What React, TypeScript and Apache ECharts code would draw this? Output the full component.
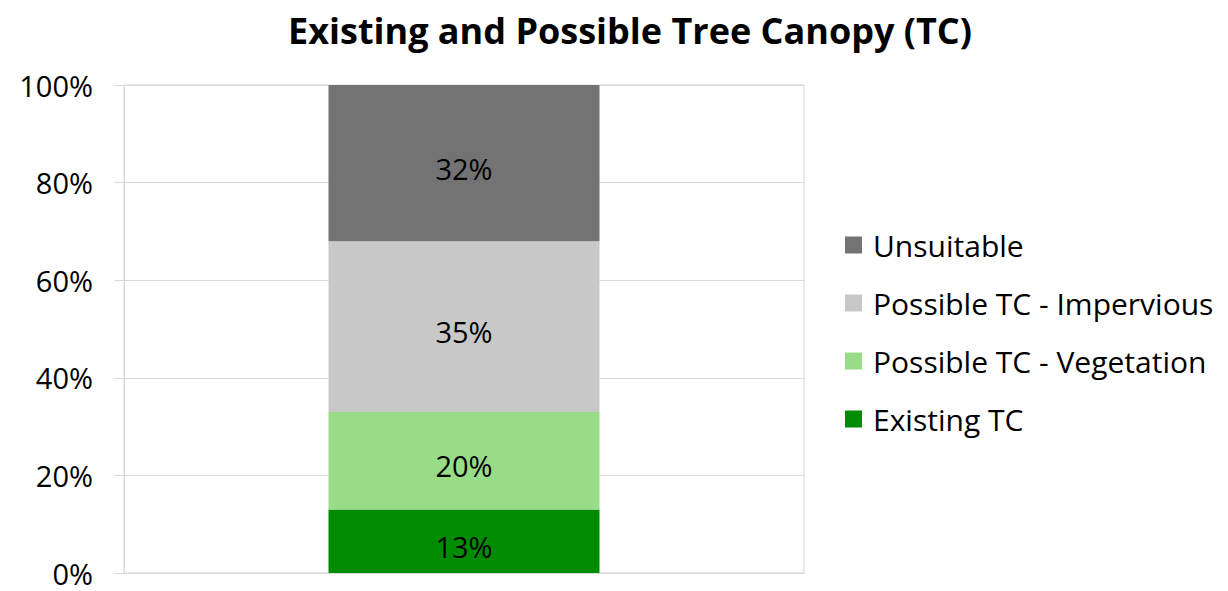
import React, { useEffect, useRef } from "react";
import * as echarts from "echarts";

const categories = ["Tree Canopy"];
const seriesNames = ["Existing TC", "Possible TC - Vegetation", "Possible TC - Impervious", "Unsuitable"];
const existing = [13];
const vegetation = [20];
const impervious = [35];
const unsuitable = [32];
const colors = ["#008c00", "#98dc88", "#c8c8c8", "#737373"];
const yTicks = [0, 20, 40, 60, 80, 100];

export default function App() {
  const ref = useRef<HTMLDivElement>(null);
  useEffect(() => {
    document.body.style.margin = "0";
    const chart = echarts.init(ref.current!, undefined, { renderer: "svg" });
    const values = [existing, vegetation, impervious, unsuitable];
    const font = "'Open Sans', Lato, sans-serif";
    chart.setOption({
      animation: false,
      backgroundColor: "#ffffff",
      title: {
        text: "Existing and Possible Tree Canopy (TC)",
        left: 625,
        textAlign: "center",
        top: 7,
        textStyle: { fontFamily: font, fontSize: 36, fontWeight: "bold", color: "#000" },
      },
      grid: {
        left: 124,
        right: 424,
        top: 85,
        bottom: 18,
        show: true,
        borderColor: "#d9d9d9",
        borderWidth: 1,
      },
      legend: {
        orient: "vertical",
        left: 845,
        top: 230,
        padding: 0,
        itemWidth: 17,
        itemHeight: 17,
        itemGap: 28,
        icon: "rect",
        data: [...seriesNames].reverse(),
        textStyle: { fontFamily: font, fontSize: 30, lineHeight: 30, color: "#000", padding: [0, 0, 0, 6] },
      },
      xAxis: {
        type: "category",
        data: categories,
        axisLine: { lineStyle: { color: "#d9d9d9" } },
        axisTick: { show: false },
        axisLabel: { show: false },
      },
      yAxis: {
        type: "value",
        min: 0,
        max: 100,
        interval: 20,
        axisLine: { show: true, lineStyle: { color: "#d9d9d9" } },
        axisTick: { show: true, length: 10, lineStyle: { color: "#d9d9d9" } },
        splitLine: { lineStyle: { color: "#d9d9d9" } },
        axisLabel: {
          fontFamily: font,
          fontSize: 29,
          lineHeight: 26,
          color: "#000",
          margin: 31,
          formatter: (v: number) => (yTicks.includes(v) ? v + "%" : ""),
        },
      },
      series: seriesNames.map((name, i) => ({
        name,
        type: "bar",
        stack: "total",
        barWidth: 271,
        data: values[i],
        itemStyle: { color: colors[i] },
        label: {
          show: true,
          position: "inside",
          offset: [0, 5],
          formatter: "{c}%",
          fontFamily: font,
          fontSize: 29,
          color: "#000",
        },
      })),
    });
    return () => chart.dispose();
  }, []);
  return <div ref={ref} style={{ width: 1228, height: 591 }} />;
}
